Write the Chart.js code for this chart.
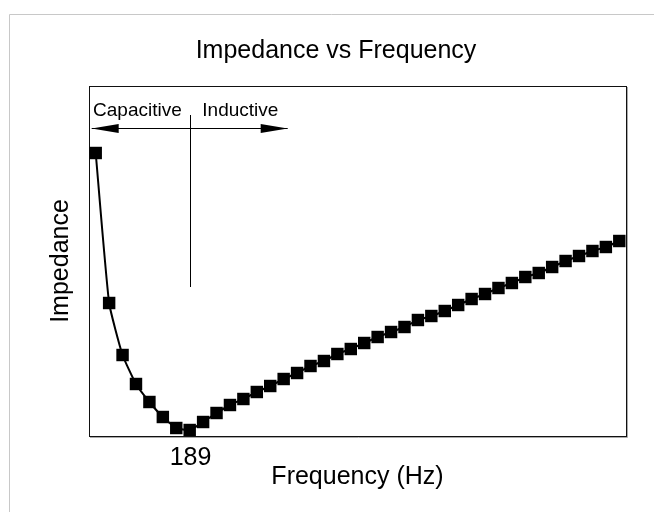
<!DOCTYPE html>
<html>
<head>
<meta charset="utf-8">
<script src="https://cdn.jsdelivr.net/npm/chart.js@4/dist/chart.umd.min.js"></script>
<style>
  html, body { margin: 0; padding: 0; background: #fff; }
  #wrap { width: 654px; height: 512px; }
</style>
</head>
<body>
<div id="wrap"><canvas id="impChart" width="654" height="512"></canvas></div>
<script>
// sweep frequencies (Hz) and measured impedance (arbitrary units)
const freqHz = [12.5, 37.5, 62.5, 87.5, 112.5, 137.5, 162.5, 187.5, 212.5, 237.5,
                262.5, 287.5, 312.5, 337.5, 362.5, 387.5, 412.5, 437.5, 462.5, 487.5,
                512.5, 537.5, 562.5, 587.5, 612.5, 637.5, 662.5, 687.5, 712.5, 737.5,
                762.5, 787.5, 812.5, 837.5, 862.5, 887.5, 912.5, 937.5, 962.5, 987.5];
const impedance = [283, 133, 81, 52, 34, 19, 8, 6, 14, 23,
                   31, 37, 44, 50, 57, 63, 70, 75, 82, 87,
                   93, 99, 104, 109, 116, 120, 125, 131, 137, 142,
                   148, 153, 159, 163, 169, 175, 180, 185, 189, 195];
const freqTicks = [189];
const resonanceHz = 189;
const regionNames = ['Capacitive', 'Inductive'];

const FONT = "'Liberation Sans', Arial, Helvetica, sans-serif";
Chart.defaults.font.family = FONT;
Chart.defaults.color = '#000';

// thin grey frame round the figure
const frame = {
  id: 'frame',
  beforeDraw(chart) {
    const c = chart.ctx;
    c.save();
    c.fillStyle = '#fff';
    c.fillRect(0, 0, chart.width, chart.height);
    c.strokeStyle = '#c8c8c8';
    c.lineWidth = 1;
    c.beginPath();
    c.moveTo(9.5, chart.height);
    c.lineTo(9.5, 14.5);
    c.lineTo(chart.width, 14.5);
    c.stroke();
    c.restore();
  }
};

// box around the plot area
const plotBox = {
  id: 'plotBox',
  beforeDatasetsDraw(chart) {
    const {ctx: c, chartArea: a} = chart;
    c.save();
    c.lineWidth = 1;
    c.strokeStyle = '#aaa';
    c.beginPath();
    c.moveTo(a.right + 1.5, a.top + 1);
    c.lineTo(a.right + 1.5, a.bottom + 1.5);
    c.lineTo(a.left + 1, a.bottom + 1.5);
    c.stroke();
    c.strokeStyle = '#111';
    c.strokeRect(a.left + 0.5, a.top + 0.5, a.right - a.left, a.bottom - a.top);
    c.restore();
  }
};

// resonance marker with capacitive / inductive arrow
const regions = {
  id: 'regions',
  afterDatasetsDraw(chart) {
    const {ctx: c, scales: {x, y}} = chart;
    const vx = Math.round(x.getPixelForValue(resonanceHz)) + 0.5;
    const ay = Math.round(y.getPixelForValue(308)) + 0.5;
    const x0 = x.getPixelForValue(5);
    const x1 = x.getPixelForValue(370);
    const headLen = 27, headHalf = 4.5;
    c.save();
    c.strokeStyle = '#000';
    c.fillStyle = '#000';
    c.lineWidth = 1;

    c.beginPath();
    c.moveTo(vx, y.getPixelForValue(321));
    c.lineTo(vx, y.getPixelForValue(149));
    c.stroke();

    c.beginPath();
    c.moveTo(x0, ay);
    c.lineTo(x1, ay);
    c.stroke();

    c.beginPath();
    c.moveTo(x0, ay);
    c.lineTo(x0 + headLen, ay - headHalf);
    c.lineTo(x0 + headLen, ay + headHalf);
    c.closePath();
    c.fill();

    c.beginPath();
    c.moveTo(x1, ay);
    c.lineTo(x1 - headLen, ay - headHalf);
    c.lineTo(x1 - headLen, ay + headHalf);
    c.closePath();
    c.fill();

    c.font = '19px ' + FONT;
    c.textBaseline = 'alphabetic';
    c.textAlign = 'left';
    const ty = y.getPixelForValue(320);
    c.fillText(regionNames[0], x.getPixelForValue(7.5), ty);
    c.fillText(regionNames[1], x.getPixelForValue(211), ty);
    c.restore();
  }
};

new Chart(document.getElementById('impChart'), {
  type: 'line',
  data: {
    datasets: [{
      label: 'Impedance',
      data: freqHz.map((f, i) => ({x: f, y: impedance[i]})),
      borderColor: '#000',
      borderWidth: 2,
      tension: 0.15,
      pointStyle: 'rect',
      pointRadius: 8.8,
      pointBackgroundColor: '#000',
      pointBorderWidth: 0
    }]
  },
  options: {
    responsive: false,
    animation: false,
    layout: { padding: { left: 46, right: 28, top: 0, bottom: 0 } },
    plugins: {
      legend: { display: false },
      tooltip: { enabled: false },
      title: {
        display: true,
        text: 'Impedance vs Frequency',
        color: '#000',
        font: { size: 25, weight: 'normal', lineHeight: 1.2 },
        padding: { top: 36, bottom: 20 }
      }
    },
    scales: {
      x: {
        type: 'linear',
        min: 0,
        max: 1000,
        afterBuildTicks: (s) => { s.ticks = freqTicks.map(v => ({value: v})); },
        afterFit: (s) => { s.height = 76; },
        grid: { display: false, drawTicks: false },
        border: { display: false },
        ticks: { padding: 7, font: { size: 25 }, color: '#000', maxRotation: 0 },
        title: {
          display: true,
          text: 'Frequency (Hz)',
          color: '#000',
          font: { size: 25, lineHeight: 1.2 },
          padding: { top: 0, bottom: 20 }
        }
      },
      y: {
        min: 0,
        max: 350,
        afterFit: (s) => { s.width = 43; },
        grid: { display: false, drawTicks: false },
        border: { display: false },
        ticks: { display: false },
        title: {
          display: true,
          text: 'Impedance',
          color: '#000',
          font: { size: 25, lineHeight: 1.2 },
          padding: { top: 0, bottom: 0 }
        }
      }
    }
  },
  plugins: [frame, plotBox, regions]
});
</script>
</body>
</html>
